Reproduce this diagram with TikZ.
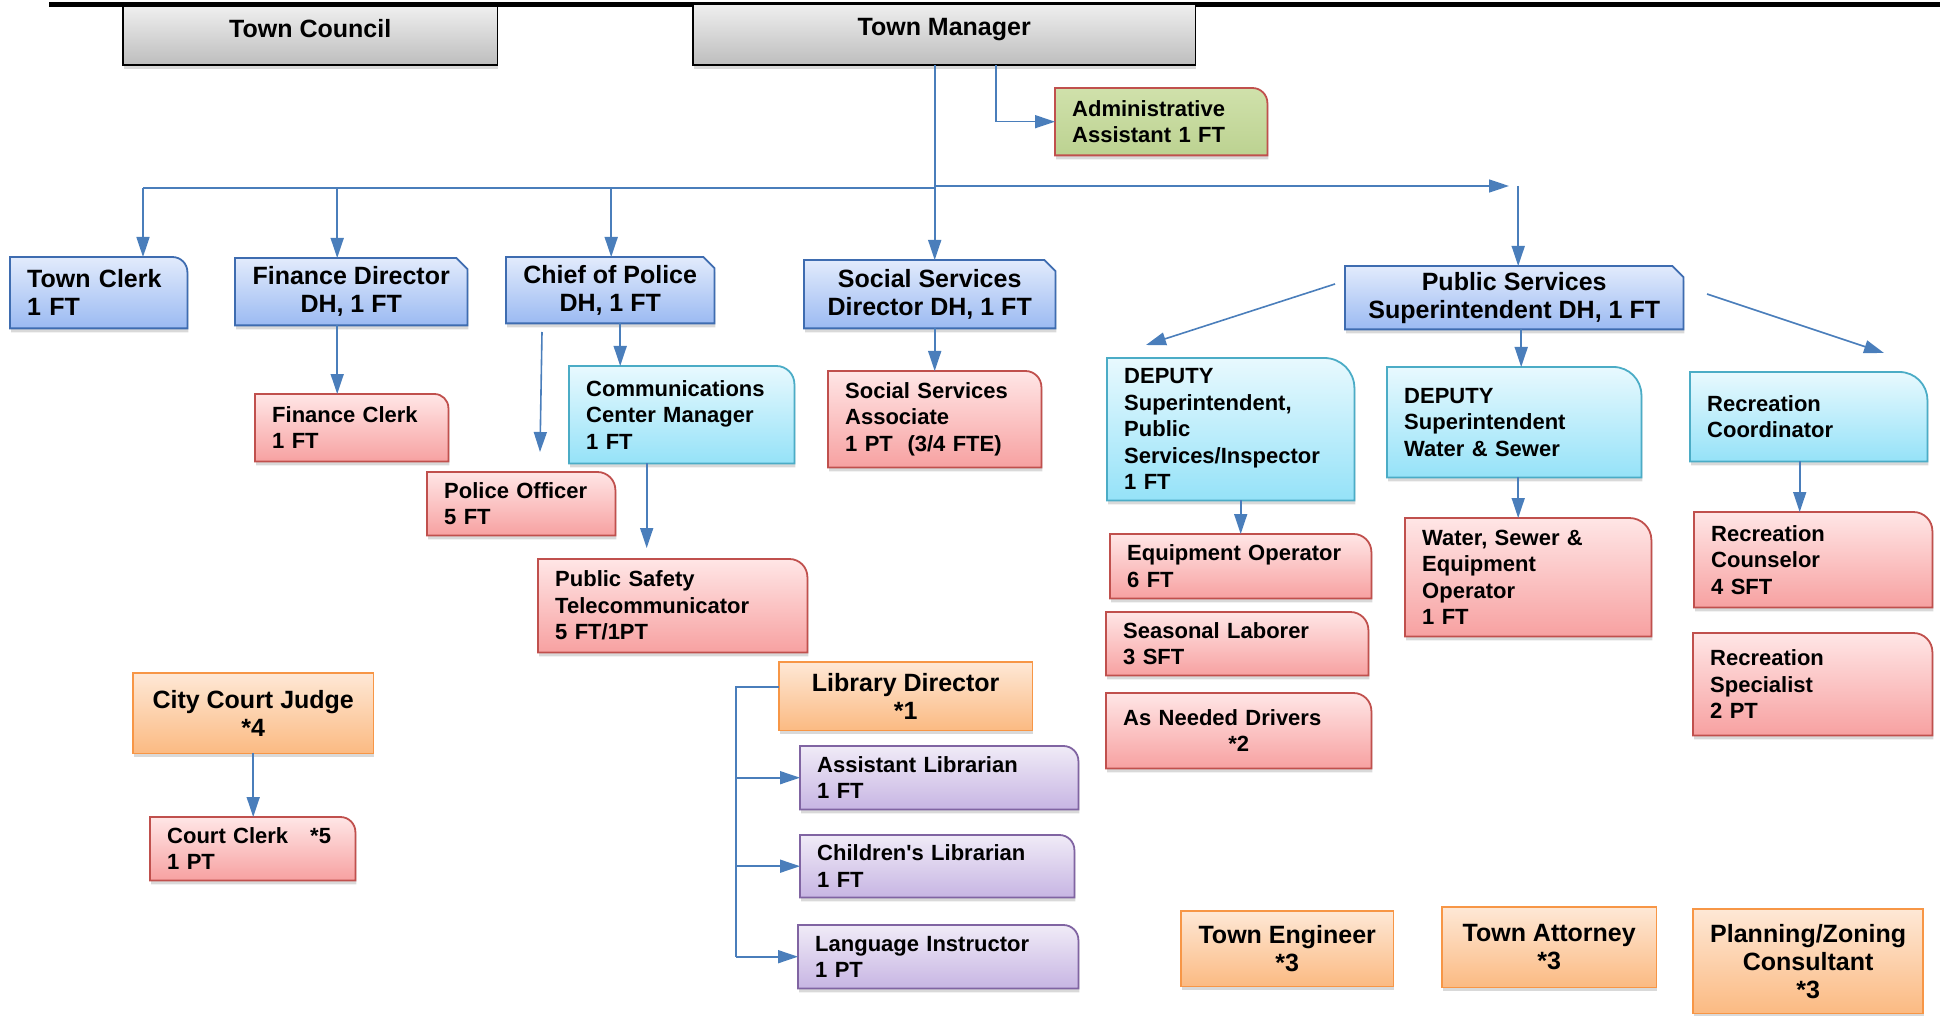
\documentclass[tikz,border=0pt]{standalone}
\usepackage{fontspec}
\setmainfont{Liberation Sans}
\usetikzlibrary{arrows.meta,shadows}

\definecolor{lnk}{HTML}{4A7EBB}
\definecolor{gryA}{HTML}{EFEFEF}
\definecolor{gryB}{HTML}{BDBDBD}
\definecolor{bluA}{HTML}{E2EBFC}
\definecolor{bluB}{HTML}{9BBAF2}
\definecolor{bluC}{HTML}{3E6CB0}
\definecolor{redA}{HTML}{FFE6E6}
\definecolor{redB}{HTML}{F7A1A1}
\definecolor{redC}{HTML}{C0504D}
\definecolor{cynA}{HTML}{E8F9FE}
\definecolor{cynB}{HTML}{95E2F8}
\definecolor{cynC}{HTML}{4BACC6}
\definecolor{orgA}{HTML}{FEE8D6}
\definecolor{orgB}{HTML}{FBBA82}
\definecolor{orgC}{HTML}{F79646}
\definecolor{purA}{HTML}{F0EBF7}
\definecolor{purB}{HTML}{C7B5E3}
\definecolor{purC}{HTML}{8064A2}
\definecolor{grnA}{HTML}{D0E1AB}
\definecolor{grnB}{HTML}{BCD291}

\newcommand\bigf{\fontsize{25}{28}\selectfont\bfseries}
\newcommand\smf{\fontsize{22}{26.5}\selectfont\bfseries}

\tikzset{
  fgry/.style={top color=gryA, bottom color=gryB, draw=black},
  fblu/.style={top color=bluA, bottom color=bluB, draw=bluC},
  fred/.style={top color=redA, bottom color=redB, draw=redC},
  fcyn/.style={top color=cynA, bottom color=cynB, draw=cynC},
  forg/.style={top color=orgA, bottom color=orgB, draw=orgC},
  fpur/.style={top color=purA, bottom color=purB, draw=purC},
  fgrn/.style={top color=grnA, bottom color=grnB, draw=redC},
  shd/.style={drop shadow={shadow xshift=1pt, shadow yshift=-4pt, opacity=.3}},
  orgbox/.style={anchor=north west, inner xsep=17pt, inner ysep=0pt},
  sq/.style={orgbox, append after command={\pgfextra{\let\bx\tikzlastnode
      \shadedraw[#1, shd, line width=1.8pt] (\bx.south west) rectangle (\bx.north east);}}},
  snip/.style={orgbox, append after command={\pgfextra{\let\bx\tikzlastnode
      \shadedraw[#1, shd, line width=1.8pt] (\bx.south west) -- (\bx.north west)
        -- ([xshift=-11pt]\bx.north east) -- ([yshift=-11pt]\bx.north east)
        -- (\bx.south east) -- cycle;}}},
  rtr/.style 2 args={orgbox, append after command={\pgfextra{\let\bx\tikzlastnode
      \shadedraw[#1, shd, line width=1.8pt] (\bx.south west) -- (\bx.north west)
        -- ([xshift=-#2]\bx.north east) arc[start angle=90, end angle=0, radius=#2]
        -- (\bx.south east) -- cycle;}}},
  conn/.style={draw=lnk, line width=1.6pt},
  connarr/.style={conn, -{Triangle[length=20pt, width=13pt]}},
}

\begin{document}
\begin{tikzpicture}[x=1pt, y=-1pt]
  \useasboundingbox (0,0) rectangle (1947,1016);
  \draw[line width=5pt] (49,4.5) -- (1940,4.5);

  \node[sq=fgry, font=\bigf, minimum width=374pt, minimum height=59pt, text depth=15pt] (tc) at (123,6) {Town Council};
  \node[sq=fgry, font=\bigf, minimum width=502pt, minimum height=61pt, text depth=15pt] (tm) at (693,4) {Town Manager};
  \node[rtr={fgrn}{15pt}, font=\smf, align=left, text width=178pt, minimum width=212pt, minimum height=67pt] (admin) at (1055,88) {Administrative\\Assistant 1 FT};

  \node[rtr={fblu}{15pt}, font=\bigf, align=left, text width=143pt, minimum width=177pt, minimum height=71pt] (clerk) at (10,257) {Town Clerk\\1 FT};
  \node[snip=fblu, font=\bigf, align=center, minimum width=232pt, minimum height=67pt] (fd) at (235,258) {Finance Director\\DH, 1 FT};
  \node[snip=fblu, font=\bigf, align=center, minimum width=208pt, minimum height=66pt] (chief) at (506,257) {Chief of Police\\DH, 1 FT};
  \node[snip=fblu, font=\bigf, align=center, minimum width=251pt, minimum height=68pt] (ssd) at (804,260) {Social Services\\Director DH, 1 FT};
  \node[snip=fblu, font=\bigf, align=center, minimum width=338pt, minimum height=63pt] (ps) at (1345,266) {Public Services\\Superintendent DH, 1 FT};

  \node[rtr={fred}{14pt}, font=\smf, align=left, text width=159pt, minimum width=193pt, minimum height=67pt] (fclerk) at (255,394) {Finance Clerk\\1 FT};
  \node[rtr={fcyn}{18pt}, font=\smf, align=left, text width=191pt, minimum width=225pt, minimum height=97pt] (ccm) at (569,366) {Communications\\Center Manager\\1 FT};
  \node[rtr={fred}{18pt}, font=\smf, align=left, text width=154pt, minimum width=188pt, minimum height=63pt] (po) at (427,472) {Police Officer\\5 FT};
  \node[rtr={fred}{18pt}, font=\smf, align=left, text width=235pt, minimum width=269pt, minimum height=93pt] (pst) at (538,559) {Public Safety\\Telecommunicator\\5 FT/1PT};
  \node[rtr={fred}{16pt}, font=\smf, align=left, text width=179pt, minimum width=213pt, minimum height=96pt] (ssa) at (828,371) {Social Services\\Associate\\1 PT\ \ (3/4 FTE)};

  \node[rtr={fcyn}{30pt}, font=\smf, align=left, text width=213pt, minimum width=247pt, minimum height=142pt] (dp) at (1107,358) {DEPUTY\\Superintendent,\\Public\\Services/Inspector\\1 FT};
  \node[rtr={fcyn}{28pt}, font=\smf, align=left, text width=220pt, minimum width=254pt, minimum height=110pt] (dws) at (1387,367) {DEPUTY\\Superintendent\\Water \& Sewer};
  \node[rtr={fcyn}{28pt}, font=\smf, align=left, text width=203pt, minimum width=237pt, minimum height=89pt] (rc) at (1690,372) {Recreation\\Coordinator};

  \node[rtr={fred}{18pt}, font=\smf, align=left, text width=227pt, minimum width=261pt, minimum height=64pt] (eq) at (1110,534) {Equipment Operator\\6 FT};
  \node[rtr={fred}{18pt}, font=\smf, align=left, text width=228pt, minimum width=262pt, minimum height=63pt] (sl) at (1106,612) {Seasonal Laborer\\3 SFT};
  \node[rtr={fred}{18pt}, font=\smf, align=left, text width=231pt, minimum width=265pt, minimum height=75pt] (drv) at (1106,693) {As Needed Drivers\\\makebox[\linewidth]{*2}};
  \node[rtr={fred}{22pt}, font=\smf, align=left, text width=212pt, minimum width=246pt, minimum height=118pt] (wso) at (1405,518) {Water, Sewer \&\\Equipment\\Operator\\1 FT};
  \node[rtr={fred}{19pt}, font=\smf, align=left, text width=204pt, minimum width=238pt, minimum height=95pt] (rcn) at (1694,512) {Recreation\\Counselor\\4 SFT};
  \node[rtr={fred}{19pt}, font=\smf, align=left, text width=205pt, minimum width=239pt, minimum height=102pt] (rsp) at (1693,633) {Recreation\\Specialist\\2 PT};

  \node[sq=forg, font=\bigf, align=center, minimum width=253pt, minimum height=68pt] (libd) at (779,662) {Library Director\\*1};
  \node[rtr={fpur}{15pt}, font=\smf, align=left, text width=244pt, minimum width=278pt, minimum height=63pt] (al) at (800,746) {Assistant Librarian\\1 FT};
  \node[rtr={fpur}{15pt}, font=\smf, align=left, text width=240pt, minimum width=274pt, minimum height=62pt] (cl) at (800,835) {Children\textquotesingle s Librarian\\1 FT};
  \node[rtr={fpur}{15pt}, font=\smf, align=left, text width=246pt, minimum width=280pt, minimum height=63pt] (lang) at (798,925) {Language Instructor\\1 PT};

  \node[sq=forg, font=\bigf, align=center, minimum width=240pt, minimum height=80pt] (judge) at (133,673) {City Court Judge\\*4};
  \node[rtr={fred}{15pt}, font=\smf, align=left, text width=171pt, minimum width=205pt, minimum height=63pt] (cclerk) at (150,817) {Court Clerk\ \ \ *5\\1 PT};

  \node[sq=forg, font=\bigf, align=center, minimum width=212pt, minimum height=75pt] (eng) at (1181,911) {Town Engineer\\*3};
  \node[sq=forg, font=\bigf, align=center, minimum width=214pt, minimum height=80pt] (att) at (1442,907) {Town Attorney\\*3};
  \node[sq=forg, font=\bigf, align=center, minimum width=229pt, minimum height=104pt] (plan) at (1693,909) {Planning/Zoning\\Consultant\\*3};

  \coordinate (trunk) at (934,188);
  \coordinate (busL) at (143,188);
  \coordinate (busR) at (1509,186);
  \draw[connarr] ([xshift=-9.5pt]tm.south) -- ([xshift=-9.5pt]tm.south |- ssd.north);
  \draw[connarr] ([xshift=52pt]tm.south) |- (admin.west);
  \draw[conn] (trunk) -- (busL);
  \draw[connarr] (busL) -- (busL |- clerk.north);
  \draw[connarr] ([xshift=-14pt]fd.north |- busL) -- ([xshift=-14pt]fd.north);
  \draw[connarr] ([xshift=1pt]chief.north |- busL) -- ([xshift=1pt]chief.north);
  \draw[connarr] (trunk |- busR) -- (busR);
  \draw[connarr] ([xshift=4pt]ps.north |- busR) -- ([xshift=4pt]ps.north);

  \draw[connarr] ([xshift=-14pt]fd.south) -- ([xshift=-14pt]fd.south |- fclerk.north);
  \draw[connarr] ([xshift=10pt]chief.south) -- ([xshift=10pt]chief.south |- ccm.north);
  \coordinate (po1) at (542,332);
  \coordinate (po2) at (540,452);
  \draw[connarr] (po1) -- (po2);
  \draw[connarr, shorten >=11pt] ([xshift=-35pt]ccm.south) -- ([xshift=-35pt]ccm.south |- pst.north);
  \draw[connarr] ([xshift=5pt]ssd.south) -- (ssa.north);

  \coordinate (dp1) at (1335,284);
  \coordinate (dp2) at (1146,345);
  \draw[connarr] (dp1) -- (dp2);
  \coordinate (rc1) at (1707,294);
  \coordinate (rc2) at (1884,353);
  \draw[connarr] (rc1) -- (rc2);
  \draw[connarr] ([xshift=7pt]ps.south) -- ([xshift=7pt]ps.south |- dws.north);
  \draw[connarr] ([xshift=10pt]dp.south) -- ([xshift=10pt]dp.south |- eq.north);
  \draw[connarr] ([xshift=4pt]dws.south) -- ([xshift=4pt]dws.south |- wso.north);
  \draw[connarr] ([xshift=-9pt]rc.south) -- ([xshift=-9pt]rc.south |- rcn.north);

  \draw[connarr] (judge.south) -- (judge.south |- cclerk.north);
  \coordinate (lb) at ([xshift=-43pt, yshift=9pt]libd.west);
  \draw[conn] ([yshift=9pt]libd.west) -- (lb) -- (lb |- lang.west);
  \foreach \n in {al, cl, lang}
    \draw[connarr] (lb |- \n.west) -- (\n.west);
\end{tikzpicture}
\end{document}
